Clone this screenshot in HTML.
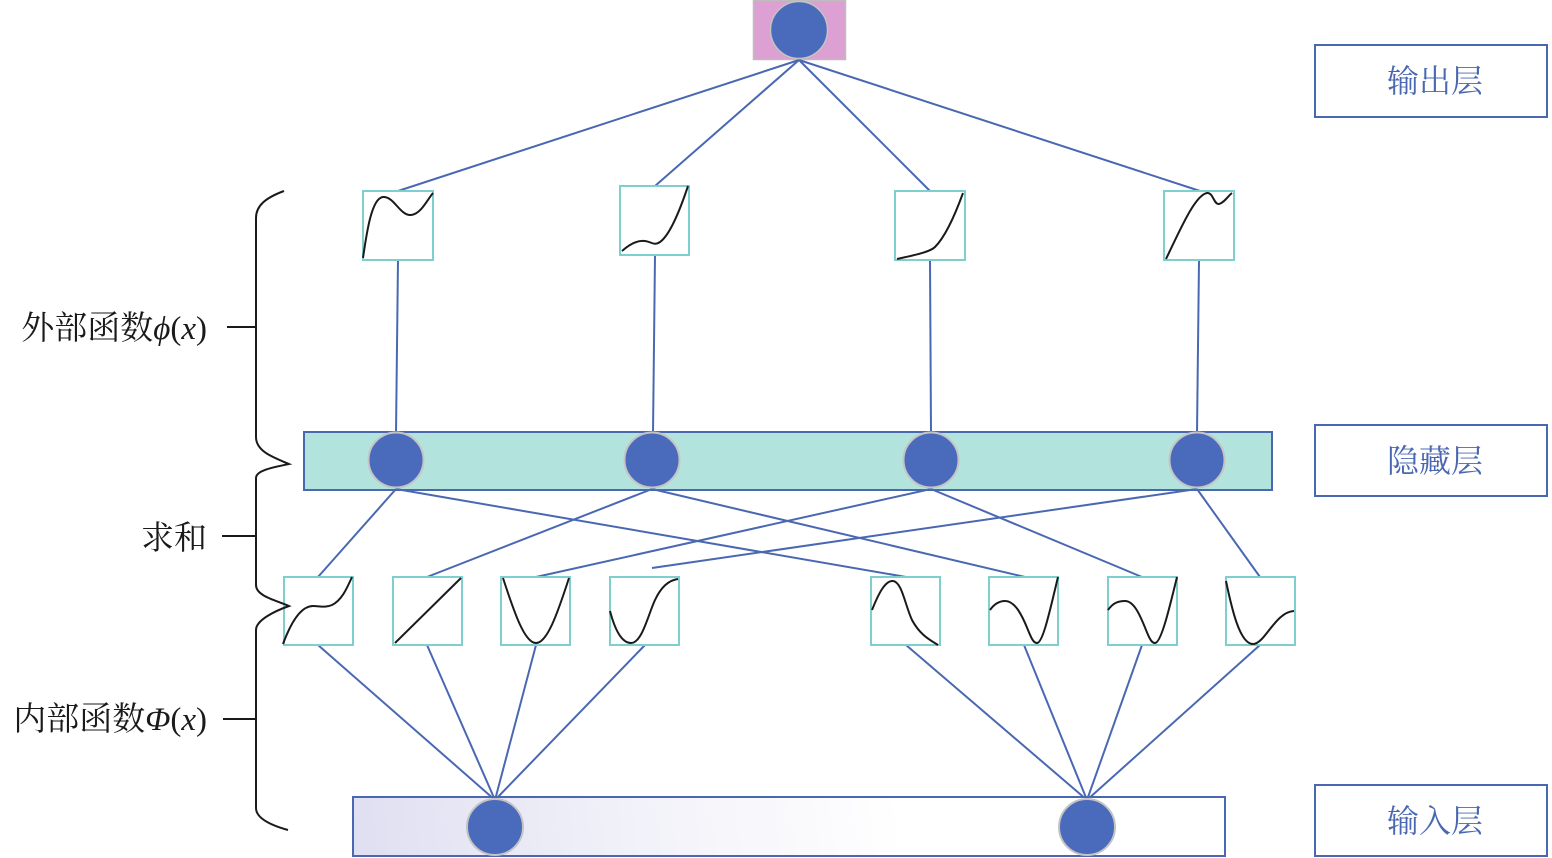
<!DOCTYPE html>
<html>
<head>
<meta charset="utf-8">
<style>
html,body{margin:0;padding:0;background:#fff;}
svg{display:block;}
</style>
</head>
<body>
<svg width="1552" height="858" viewBox="0 0 1552 858" xmlns="http://www.w3.org/2000/svg">
  <defs>
    <linearGradient id="ing" gradientUnits="userSpaceOnUse" x1="353" y1="856" x2="900" y2="797">
      <stop offset="0" stop-color="#dfdff2"/>
      <stop offset="0.5" stop-color="#f1f1f9"/>
      <stop offset="1" stop-color="#ffffff"/>
    </linearGradient>
  </defs>

  <!-- Output node -->
  <rect x="753.5" y="0.5" width="92" height="59" fill="#dca0d2" stroke="#bdbdbd" stroke-width="1.5"/>

  <!-- connectors: output to top function boxes -->
  <g stroke="#4a68b2" stroke-width="2" fill="none">
    <line x1="799" y1="60" x2="398" y2="191"/>
    <line x1="799" y1="60" x2="655" y2="186"/>
    <line x1="799" y1="60" x2="930" y2="191"/>
    <line x1="799" y1="60" x2="1200" y2="191"/>
    <!-- top boxes to hidden nodes -->
    <line x1="398" y1="260" x2="396" y2="433"/>
    <line x1="655" y1="255" x2="653" y2="433"/>
    <line x1="930" y1="260" x2="931" y2="433"/>
    <line x1="1199" y1="260" x2="1197" y2="433"/>
  </g>

  <circle cx="799" cy="30" r="28.5" fill="#4a6abb" stroke="#c4c4c4" stroke-width="1.5"/>

  <!-- Top function boxes -->
  <g fill="#fff" stroke="#7fcfcf" stroke-width="2">
    <rect x="363" y="191" width="70" height="69"/>
    <rect x="620" y="186" width="69" height="69"/>
    <rect x="895" y="191" width="70" height="69"/>
    <rect x="1164" y="191" width="70" height="69"/>
  </g>
  <g fill="none" stroke="#1a1a1a" stroke-width="2">
    <path d="M363,258 C367,230 372,198 383,197 C394,196 400,216 411,215 C421,214 427,200 433,193"/>
    <path d="M622,251 C630,244 638,240 645,241 C652,242 654,246 660,242 C670,235 680,210 688,186"/>
    <path d="M897,259 C915,255 930,252 935,247 C945,237 955,215 963,193"/>
    <path d="M1166,259 C1180,230 1195,195 1207,193 C1213,192 1214,205 1219,204 C1224,203 1228,196 1232,193"/>
  </g>

  <!-- Hidden layer bar -->
  <rect x="304" y="432" width="968" height="58" fill="#b2e3dd" stroke="#4a68b2" stroke-width="2"/>

  <!-- hidden to inner function boxes -->
  <g stroke="#4a68b2" stroke-width="2" fill="none">
    <line x1="396" y1="489" x2="318" y2="577"/>
    <line x1="396" y1="489" x2="906" y2="577"/>
    <line x1="652" y1="489" x2="427" y2="577"/>
    <line x1="652" y1="489" x2="1025" y2="577"/>
    <line x1="931" y1="489" x2="536" y2="577"/>
    <line x1="931" y1="489" x2="1142" y2="577"/>
    <line x1="1197" y1="489" x2="652" y2="568"/>
    <line x1="1197" y1="489" x2="1260" y2="577"/>
    <!-- inner boxes to input nodes -->
    <line x1="318" y1="645" x2="495" y2="800"/>
    <line x1="427" y1="645" x2="495" y2="800"/>
    <line x1="536" y1="645" x2="495" y2="800"/>
    <line x1="645" y1="645" x2="495" y2="800"/>
    <line x1="906" y1="645" x2="1087" y2="800"/>
    <line x1="1024" y1="645" x2="1087" y2="800"/>
    <line x1="1142" y1="645" x2="1087" y2="800"/>
    <line x1="1260" y1="645" x2="1087" y2="800"/>
  </g>

  <g fill="#4a6abb" stroke="#c4c4c4" stroke-width="2">
    <circle cx="396" cy="460" r="27.5"/>
    <circle cx="652" cy="460" r="27.5"/>
    <circle cx="931" cy="460" r="27.5"/>
    <circle cx="1197" cy="460" r="27.5"/>
  </g>

  <!-- Inner function boxes -->
  <g fill="#fff" stroke="#7fcfcf" stroke-width="2">
    <rect x="284" y="577" width="69" height="68"/>
    <rect x="393" y="577" width="69" height="68"/>
    <rect x="501" y="577" width="69" height="68"/>
    <rect x="610" y="577" width="69" height="68"/>
    <rect x="871" y="577" width="69" height="68"/>
    <rect x="989" y="577" width="69" height="68"/>
    <rect x="1108" y="577" width="69" height="68"/>
    <rect x="1226" y="577" width="69" height="68"/>
  </g>
  <g fill="none" stroke="#1a1a1a" stroke-width="2">
    <path d="M283,644 C290,625 300,606 313,606 C320,606 325,608 332,605 C342,600 347,588 352,577"/>
    <path d="M395,643 L461,578"/>
    <path d="M503,578 C515,615 525,643 536,643 C547,643 557,615 569,578"/>
    <path d="M610,611 C615,630 622,643 631,643 C642,643 648,615 655,600 C662,585 670,580 678,579"/>
    <path d="M872,610 C878,595 885,580 893,581 C902,582 905,605 912,620 C920,635 930,640 938,645"/>
    <path d="M990,610 C995,603 1000,601 1005,601 C1015,601 1022,615 1028,630 C1032,640 1034,643 1037,643 C1043,643 1050,610 1058,577"/>
    <path d="M1108,610 C1113,603 1118,601 1125,601 C1134,601 1140,615 1146,630 C1150,640 1152,643 1155,643 C1161,643 1169,610 1177,577"/>
    <path d="M1226,581 C1232,610 1240,644 1253,644 C1265,644 1275,612 1294,611"/>
  </g>

  <!-- Input layer bar -->
  <rect x="353" y="797" width="872" height="59" fill="url(#ing)" stroke="#4a68b2" stroke-width="2"/>
  <g fill="#4a6abb" stroke="#c4c4c4" stroke-width="2">
    <circle cx="495" cy="827" r="28"/>
    <circle cx="1087" cy="827" r="28"/>
  </g>

  <!-- Braces -->
  <g fill="none" stroke="#1a1a1a" stroke-width="2">
    <path d="M284,191 C265,198 256,206 256,218 L256,437 C256,452 275,458 289,464 C275,467 256,470 256,478 L256,585 C256,596 275,600 289,606 C275,611 256,620 256,630 L256,808 C256,818 270,825 288,830"/>
    <line x1="227" y1="327" x2="256" y2="327"/>
    <line x1="222" y1="536" x2="256" y2="536"/>
    <line x1="223" y1="719" x2="256" y2="719"/>
  </g>

  <!-- Left labels -->
  <g font-family="'Liberation Serif','Noto Serif CJK SC',serif" font-size="33" fill="#1a1a1a" text-anchor="end">
    <text x="207" y="339"><tspan font-family="'Noto Serif CJK SC','Liberation Serif',serif">外部函数</tspan><tspan font-style="italic">ϕ</tspan>(<tspan font-style="italic">x</tspan>)</text>
    <text x="207" y="549" font-family="'Noto Serif CJK SC','Liberation Serif',serif">求和</text>
    <text x="207" y="730"><tspan font-family="'Noto Serif CJK SC','Liberation Serif',serif">内部函数</tspan><tspan font-style="italic">Φ</tspan>(<tspan font-style="italic">x</tspan>)</text>
  </g>

  <!-- Right labels -->
  <g fill="#fff" stroke="#4a68b2" stroke-width="2">
    <rect x="1315" y="45" width="232" height="72"/>
    <rect x="1315" y="425" width="232" height="71"/>
    <rect x="1315" y="785" width="232" height="71"/>
  </g>
  <g font-family="'Noto Serif CJK SC','Liberation Serif',serif" font-size="32" fill="#4a68b2" text-anchor="middle">
    <text x="1435" y="92">输出层</text>
    <text x="1435" y="472">隐藏层</text>
    <text x="1435" y="832">输入层</text>
  </g>
</svg>
</body>
</html>
